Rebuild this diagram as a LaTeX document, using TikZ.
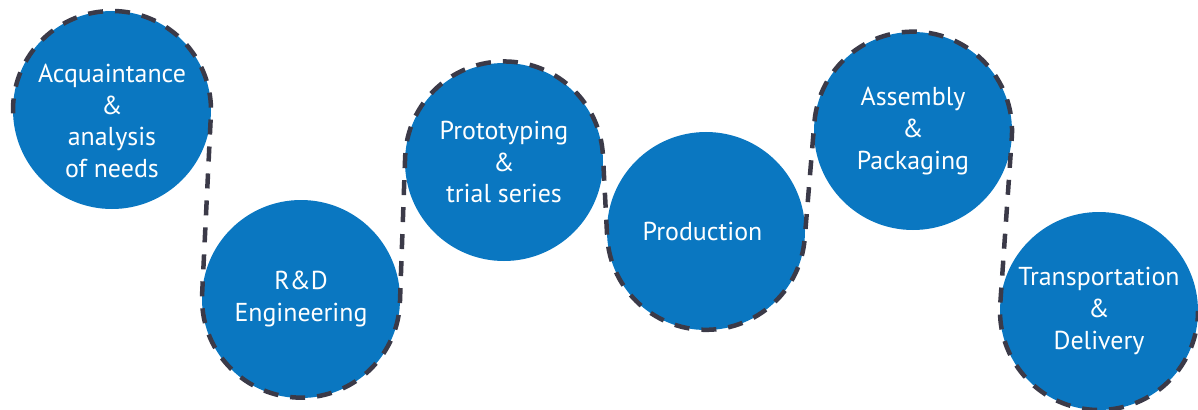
\documentclass[tikz,border=0pt]{standalone}
\usepackage{fontspec}
\setmainfont{PT Sans}
\usepackage{tikz}
\definecolor{stepblue}{HTML}{0A77C1}
\definecolor{dashgray}{HTML}{3B3A48}
\tikzset{
	steptext/.style={text=white, align=center,
		font=\fontsize{26}{32}\selectfont},
	stepcircle/.style={circle, fill=stepblue, minimum size=198bp,
		inner sep=0pt, outer sep=0pt, steptext},
	pathline/.style={draw=dashgray, line width=4.5bp,
		dash pattern=on 15bp off 12bp}
}

\begin{document}
\begin{tikzpicture}[x=1bp, y=1bp]
	\useasboundingbox (0,0) rectangle (1198,409);
	\node [stepcircle] (acq) at (112,299) 
		{};
	\node [steptext] (acqtext) at ([yshift=-11bp]acq.center) 
		{ Acquaintance \\ \& \\ analysis \\ of needs };
	\node [stepcircle] (rnd) at (301,110) 
		{ R\&D \\ Engineering };
	\node [stepcircle] (proto) at (504,247) 
		{ Prototyping \\ \& \\ trial series };
	\node [stepcircle] (prod) at (706,178) 
		{ Production };
	\node [stepcircle] (asm) at (913,278) 
		{ Assembly \\ \& \\ Packaging };
	\node [stepcircle] (trans) at (1099,98) 
		{ Transportation \\ \& \\ Delivery };
	\draw [pathline] (acq.182) 
		arc [start angle=182, end angle=-2.8, radius=99bp] 
		-- (rnd.177.2) 
		arc [start angle=177.2, end angle=357.9, radius=99bp] 
		-- (proto.177.9) 
		arc [start angle=177.9, end angle=3.1, radius=99bp] 
		-- (prod.183.1) 
		arc [start angle=183.1, end angle=355.2, radius=99bp] 
		-- (asm.175.2) 
		arc [start angle=175.2, end angle=-4, radius=99bp] 
		-- (trans.176) 
		arc [start angle=176, end angle=360, radius=99bp];
\end{tikzpicture}
\end{document}
